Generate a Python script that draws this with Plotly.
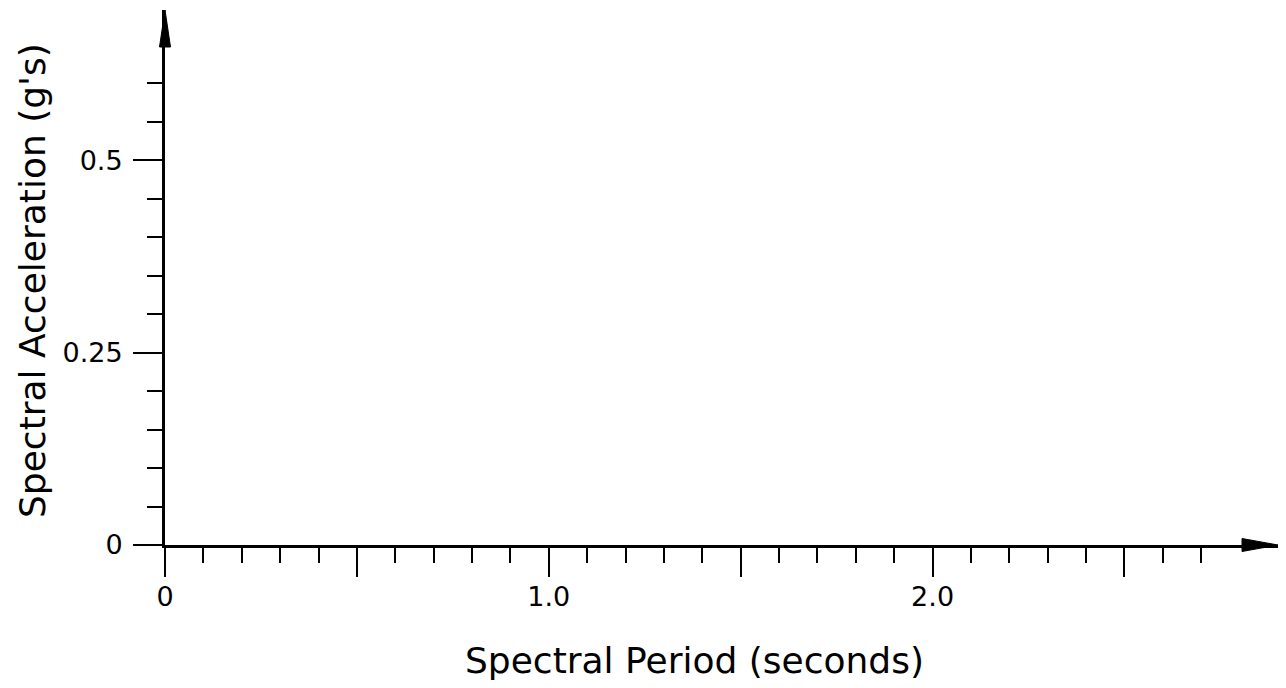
import plotly.graph_objects as go

# Axis ranges and tick definitions
X_RANGE = [0, 2.9]
Y_RANGE = [0, 0.695]

X_MAJOR = [0, 0.5, 1.0, 1.5, 2.0, 2.5]
X_LABELS = ["0", "", "1.0", "", "2.0", ""]
X_MINOR = [0.1, 0.2, 0.3, 0.4, 0.6, 0.7, 0.8, 0.9, 1.1, 1.2, 1.3, 1.4,
           1.6, 1.7, 1.8, 1.9, 2.1, 2.2, 2.3, 2.4, 2.6, 2.7]

Y_MAJOR = [0, 0.25, 0.5]
Y_LABELS = ["0", "0.25", "0.5"]
Y_MINOR = [0.05, 0.1, 0.15, 0.2, 0.3, 0.35, 0.4, 0.45, 0.55, 0.6]

X_TITLE = "Spectral Period (seconds)"
Y_TITLE = "Spectral Acceleration (g's)"

FONT = "DejaVu Sans"
BODY = 8  # default page body margin of the html page
W, H = 1286 - BODY, 688 - BODY
M = dict(l=165 - BODY, r=8, t=10 - BODY, b=143)
PW = W - M["l"] - M["r"]
PH = H - M["t"] - M["b"]


def px_to_paper(px, py):
    """page pixel -> paper coordinates"""
    return (px - BODY - M["l"]) / PW, 1 - (py - BODY - M["t"]) / PH


fig = go.Figure()

common = dict(
    showgrid=False, zeroline=False, showline=True, linewidth=3, linecolor="black",
    ticks="outside", tickwidth=2, tickcolor="black", ticklen=29,
    tickfont=dict(family=FONT, size=27, color="black"),
    fixedrange=True,
)

fig.update_xaxes(
    range=X_RANGE, tickmode="array", tickvals=X_MAJOR, ticktext=X_LABELS,
    ticklabelstandoff=-3,
    minor=dict(tickmode="array", tickvals=X_MINOR, ticks="outside", ticklen=15,
               tickwidth=2, tickcolor="black", showgrid=False),
    **common,
)
fig.update_yaxes(
    range=Y_RANGE, tickmode="array", tickvals=Y_MAJOR, ticktext=Y_LABELS,
    ticklabelstandoff=5,
    minor=dict(tickmode="array", tickvals=Y_MINOR, ticks="outside", ticklen=15,
               tickwidth=2, tickcolor="black", showgrid=False),
    **common,
)

# arrowheads at the ends of the axes (paper coordinates, sized in pixels)
xl, xh = 36 / PW, 6.5 / PH
yl, yh = 37 / PH, 5.5 / PW
fig.add_shape(type="path", xref="paper", yref="paper",
              path=f"M 1,0 L {1 - xl},{xh} L {1 - xl},{-xh} Z",
              fillcolor="black", line=dict(color="black", width=1))
fig.add_shape(type="path", xref="paper", yref="paper",
              path=f"M 0,1 L {yh},{1 - yl} L {-yh},{1 - yl} Z",
              fillcolor="black", line=dict(color="black", width=1))

tx, ty = px_to_paper(694, 660)
fig.add_annotation(text=X_TITLE, xref="paper", yref="paper", x=tx, y=ty,
                   showarrow=False, xanchor="center", yanchor="middle",
                   font=dict(family=FONT, size=36, color="black"))
vx, vy = px_to_paper(32, 281)
fig.add_annotation(text=Y_TITLE, xref="paper", yref="paper", textangle=-90,
                   x=vx, y=vy, showarrow=False, xanchor="center", yanchor="middle",
                   font=dict(family=FONT, size=36, color="black"))

fig.update_layout(
    width=W, height=H, margin=M,
    paper_bgcolor="white", plot_bgcolor="white",
    showlegend=False,
)

fig.write_html("out.html")
